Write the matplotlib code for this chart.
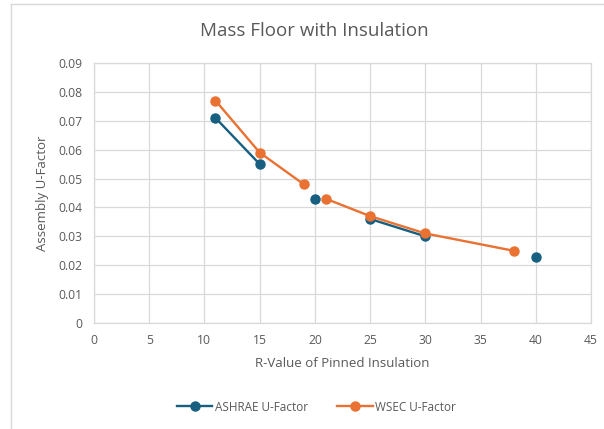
import numpy as np
import matplotlib.pyplot as plt
from matplotlib.lines import Line2D

# shared x positions (blank cells -> NaN, Excel leaves gaps)
r_values = [11, 15, 19, 20, 21, 25, 30, 38, 40]
ashrae = [0.071, 0.055, np.nan, 0.043, np.nan, 0.036, 0.030, np.nan, 0.023]
wsec = [0.077, 0.059, 0.048, np.nan, 0.043, 0.037, 0.031, 0.025, np.nan]

blue = '#165f80'
orange = '#e97132'
txt = '#595959'
grid_c = '#d9d9d9'

plt.rcParams['font.family'] = ['Open Sans', 'DejaVu Sans']

fig = plt.figure(figsize=(6.04, 4.29), dpi=100)
ax = fig.add_axes([0.1556, 0.2471, 0.8229, 0.606])

ax.plot(r_values, ashrae, '-o', color=blue, lw=1.7, ms=6.5, label='ASHRAE U-Factor', zorder=3)
ax.plot(r_values, wsec, '-o', color=orange, lw=1.7, ms=6.5, label='WSEC U-Factor', zorder=4)

ax.set_xlim(0, 45)
ax.set_ylim(0, 0.09)
ax.set_xticks(np.arange(0, 46, 5))
ax.set_yticks(np.arange(0, 0.091, 0.01))
ax.set_yticklabels(['0'] + ['%.2f' % v for v in np.arange(0.01, 0.091, 0.01)])
ax.grid(True, color=grid_c, lw=0.9)
ax.set_axisbelow(True)
for s in ax.spines.values():
    s.set_color(grid_c)
    s.set_linewidth(0.9)
ax.tick_params(length=0, colors=txt, labelsize=8.7, pad=8)

ax.set_xlabel('R-Value of Pinned Insulation', color=txt, fontsize=9.5, labelpad=7)
ax.set_ylabel('Assembly U-Factor', color=txt, fontsize=9.5, labelpad=7)
fig.text(0.52, 0.927, 'Mass Floor with Insulation', ha='center', va='center', color=txt, fontsize=13.5)

leg = fig.legend(loc='center', bbox_to_anchor=(0.524, 0.051), ncol=2, frameon=False,
                 fontsize=8.5, handlelength=3, columnspacing=2.5, handletextpad=0.2)
for t in leg.get_texts():
    t.set_color(txt)

# chart outer border (partly cropped)
fig.add_artist(Line2D([11 / 604, 11 / 604], [0, 1 - 4 / 429], transform=fig.transFigure, color=grid_c, lw=1))
fig.add_artist(Line2D([11 / 604, 1], [1 - 4 / 429, 1 - 4 / 429], transform=fig.transFigure, color=grid_c, lw=1))

fig.savefig('out.png', dpi=100)
